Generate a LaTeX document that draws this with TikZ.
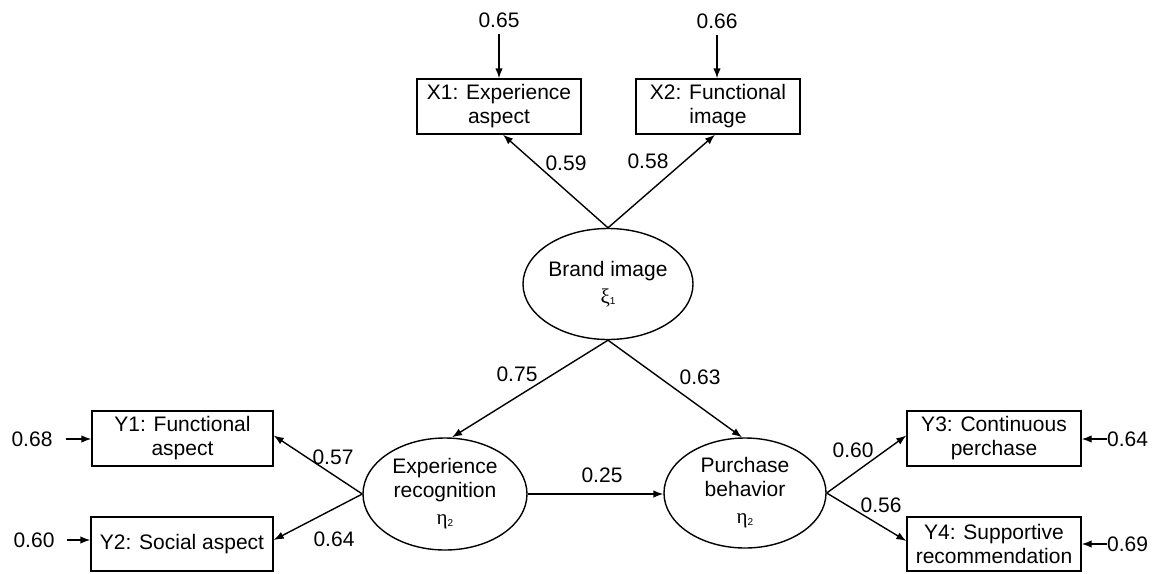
\documentclass[tikz,border=0pt]{standalone}
\usepackage{fontspec}
\setmainfont{Liberation Sans}
\newfontfamily\gkfont{Liberation Serif}
\usetikzlibrary{arrows.meta,shapes.geometric}
\newcommand{\gsym}[2]{{\gkfont\fontsize{21}{21}\selectfont #1}\raisebox{-1.5pt}{\fontsize{10}{10}\selectfont #2}}
\begin{document}
\begin{tikzpicture}[x=1pt,y=-1pt,
  every node/.style={font=\fontsize{21}{24}\selectfont},
  obs/.style={draw, line width=1.4pt, minimum height=55pt, inner sep=0pt, align=center},
  latent/.style={ellipse, draw, line width=1.4pt, inner sep=0pt, align=center},
  semarrow/.style={-{Latex[length=10pt,width=7.5pt]}, line width=1.4pt},
  coef/.style={inner sep=0pt}]
\useasboundingbox (0,0) rectangle (1153,573);

% observed variables
\node[obs, minimum width=164pt] (X1) at (499,106.5) {X1: Experience\\aspect};
\node[obs, minimum width=164pt] (X2) at (718,106.5) {X2: Functional\\image};
\node[obs, minimum width=181pt] (Y1) at (182.5,438.5) {Y1: Functional\\aspect};
\node[obs, minimum width=182pt, minimum height=54pt] (Y2) at (182,544) {Y2: Social aspect};
\node[obs, minimum width=174pt] (Y3) at (994,438.5) {Y3: Continuous\\perchase};
\node[obs, minimum width=174pt, minimum height=54pt] (Y4) at (994,544) {Y4: Supportive\\recommendation};

% latent variables
\node[latent, minimum width=170pt, minimum height=111pt] (BI) at (608,284) {Brand image\\[3pt]\gsym{ξ}{1}};
\node[latent, minimum width=164pt, minimum height=112pt] (ER) at (445,494) {Experience\\recognition\\[3pt]\gsym{η}{2}};
\node[latent, minimum width=162pt, minimum height=110pt] (PB) at (745,493) {Purchase\\behavior\\[3pt]\gsym{η}{2}};

% error terms
\node[coef] (e1) at (499,20) {0.65};
\node[coef] (e2) at (717,21) {0.66};
\node[coef] (e3) at (32,439) {0.68};
\node[coef] (e4) at (34,540) {0.60};
\node[coef, anchor=west] (e5) at (1107,439) {0.64};
\node[coef, anchor=west] (e6) at (1107,544) {0.69};

\draw[semarrow, shorten <=6pt] (e1.south) -- (e1.south |- X1.north);
\draw[semarrow, shorten <=6pt] (e2.south) -- (e2.south |- X2.north);
\draw[semarrow, shorten <=13pt] (e3.east) -- (e3.east -| Y1.west);
\draw[semarrow, shorten <=12pt] (e4.east) -- (e4.east -| Y2.west);
\draw[semarrow] (e5.west) -- (e5.west -| Y3.east);
\draw[semarrow] (e6.west) -- (e6.west -| Y4.east);

% paths
\draw[semarrow] (BI.north) -- ([xshift=4pt]X1.south);
\draw[semarrow] (BI.north) -- ([xshift=-3pt]X2.south);
\draw[semarrow] (BI.south) -- ([xshift=7pt]ER.north);
\draw[semarrow] (BI.south) -- ([xshift=-3pt]PB.north);
\draw[semarrow] (ER.west) -- ([yshift=3pt]Y1.east);
\draw[semarrow] (ER.west) -- ([yshift=4pt]Y2.east);
\draw[semarrow] (ER.east) -- (ER.east -| PB.west);
\draw[semarrow] (PB.east) -- ([yshift=3pt]Y3.west);
\draw[semarrow] (PB.east) -- ([yshift=3pt]Y4.west);

% coefficients
\node[coef] (c1) at (566,163) {0.59};
\node[coef] (c2) at (648,161) {0.58};
\node[coef] (c3) at (517,374) {0.75};
\node[coef] (c4) at (700,377) {0.63};
\node[coef] (c5) at (333,457) {0.57};
\node[coef] (c6) at (334,539) {0.64};
\node[coef] (c7) at (602,475) {0.25};
\node[coef] (c8) at (853,450) {0.60};
\node[coef] (c9) at (881,505) {0.56};
\end{tikzpicture}
\end{document}
